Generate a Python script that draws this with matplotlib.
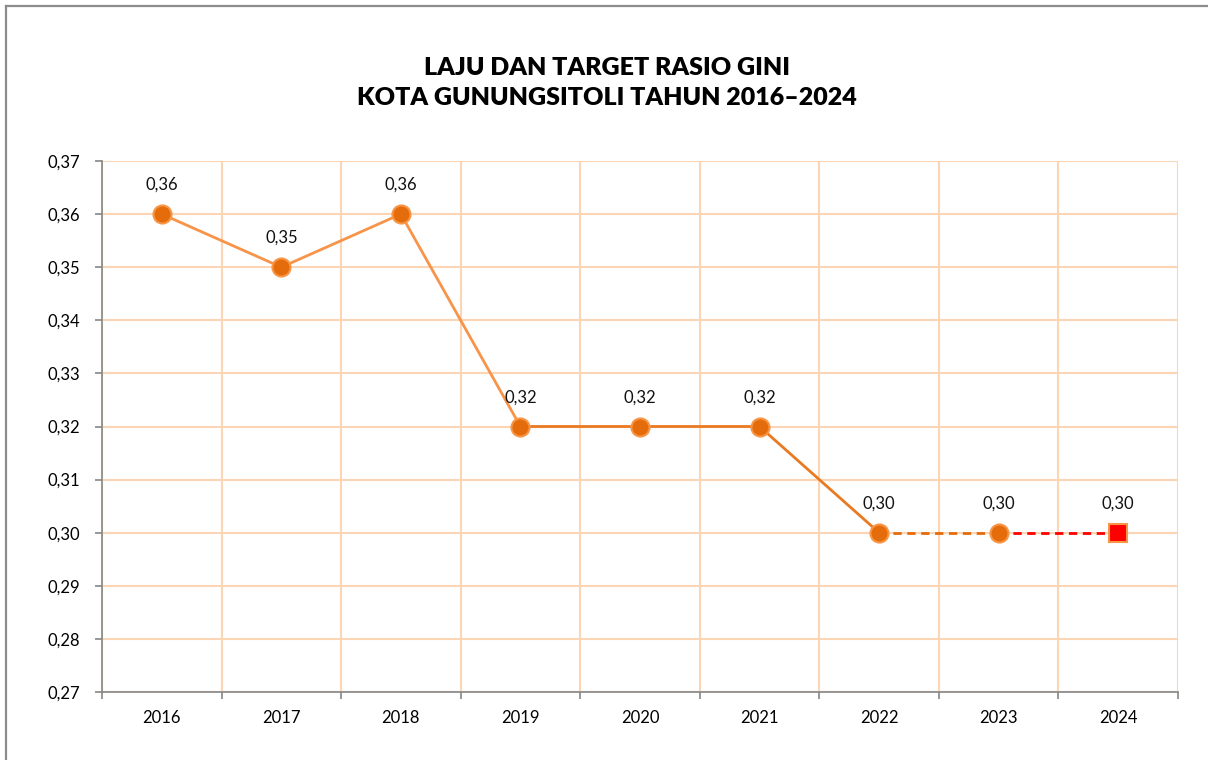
import numpy as np
import matplotlib
matplotlib.use('Agg')
import matplotlib.pyplot as plt
from matplotlib.lines import Line2D
from matplotlib.ticker import FixedLocator, FuncFormatter

# Data
years = ['2016', '2017', '2018', '2019', '2020', '2021', '2022', '2023', '2024']
gini = [0.36, 0.35, 0.36, 0.32, 0.32, 0.32, 0.30, 0.30, 0.30]
labels = ['0,36', '0,35', '0,36', '0,32', '0,32', '0,32', '0,30', '0,30', '0,30']

plt.rcParams['font.family'] = ['Lato', 'DejaVu Sans']

fig = plt.figure(figsize=(12.08, 7.60), dpi=100)
ax = fig.add_axes([102 / 1208, 1 - 692 / 760, (1178 - 102) / 1208, (692 - 161) / 760])

x = np.arange(len(years))

# outer frame (left and top only visible)
fig.add_artist(Line2D([6 / 1208, 6 / 1208], [0, 1 - 6 / 760], color='#8c8c8c', lw=1.6))
fig.add_artist(Line2D([6 / 1208, 1], [1 - 6 / 760, 1 - 6 / 760], color='#8c8c8c', lw=1.6))

# segments: actual data, then projection
ax.plot(x[0:4], gini[0:4], color='#F7944A', lw=2, zorder=3)
ax.plot(x[3:7], gini[3:7], color='#EA7A22', lw=2, zorder=3)
ax.plot(x[6:8], gini[6:8], color='#E46C0A', lw=2, ls=(0, (3, 2)), zorder=3)
ax.plot(x[7:9], gini[7:9], color='#FF0000', lw=2, ls=(0, (3, 2)), zorder=3)

ax.plot(x[0:8], gini[0:8], ls='none', marker='o', ms=13, mfc='#E46C0A',
        mec='#F79646', mew=1.5, zorder=4)
ax.plot(x[8:9], gini[8:9], ls='none', marker='s', ms=12.5, mfc='#FF0000',
        mec='#F79646', mew=1.5, zorder=4)

for xi, yi, lab in zip(x, gini, labels):
    ax.annotate(lab, (xi, yi), xytext=(0, 21), textcoords='offset points',
                ha='center', va='center', fontsize=12, color='#111111')

ax.set_xlim(-0.5, len(years) - 0.5)
ax.set_ylim(0.27, 0.37)

ax.set_xticks(x)
ax.set_xticklabels(years)
ax.xaxis.set_minor_locator(FixedLocator(np.arange(-0.5, len(years), 1)))
ax.set_yticks(np.arange(0.27, 0.3701, 0.01))
ax.yaxis.set_major_formatter(FuncFormatter(lambda v, p: f'{v:.2f}'.replace('.', ',')))

ax.tick_params(axis='x', which='major', length=0, pad=13, labelsize=12)
ax.tick_params(axis='x', which='minor', length=5, width=1.2, color='#868686', direction='out')
ax.tick_params(axis='y', length=5, width=1.2, color='#868686', pad=11, labelsize=12)

ax.grid(True, axis='y', which='major', color='#FCD5B4', lw=1.5, zorder=0)
ax.grid(True, axis='x', which='minor', color='#FCD5B4', lw=1.5, zorder=0)
ax.grid(False, axis='x', which='major')
ax.set_axisbelow(True)

for s in ['top', 'right']:
    ax.spines[s].set_visible(False)
for s in ['left', 'bottom']:
    ax.spines[s].set_color('#868686')
    ax.spines[s].set_linewidth(1.2)
    ax.spines[s].set_zorder(5)

fig.text(607 / 1208, 1 - 83 / 760, 'LAJU DAN TARGET RASIO GINI\nKOTA GUNUNGSITOLI TAHUN 2016\u20132024',
         ha='center', va='center', fontsize=18, fontweight='heavy', linespacing=1.45)

fig.savefig('out.png', dpi=100)
